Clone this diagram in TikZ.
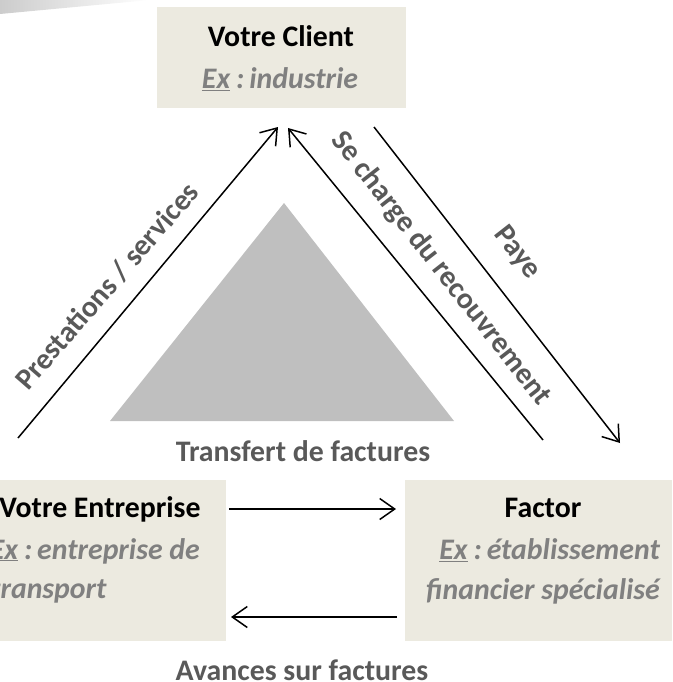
\documentclass[tikz,border=0pt]{standalone}
\usepackage{fontspec}
\setmainfont{Carlito}
\usetikzlibrary{arrows.meta}
\definecolor{boxfill}{HTML}{ECEAE0}
\definecolor{labelgrey}{HTML}{595959}
\definecolor{exgrey}{HTML}{808080}
\definecolor{trigrey}{HTML}{BFBFBF}
\newcommand{\exmark}{\underline{Ex}\hspace{6pt}:\hspace{5pt}}
\tikzset{
  x=1pt,y=-1pt,
  boxnode/.style={fill=boxfill,draw=none,inner sep=0pt,anchor=north west},
  titletext/.style={font=\bfseries\fontsize{29.8}{34}\selectfont,text=black,inner sep=0pt},
  extext/.style={font=\bfseries\itshape\fontsize{29.8}{34}\selectfont,text=exgrey,inner sep=0pt},
  flowlabel/.style={font=\bfseries\fontsize{29.8}{34}\selectfont,text=labelgrey,inner sep=0pt},
  flowarrow/.style={draw=black,line width=1.5pt,-{Straight Barb[length=15pt,width=21pt,line width=1.5pt]}},
}
\begin{document}
\begin{tikzpicture}
\useasboundingbox (0,0) rectangle (672,682);
% smudge in the corner
\shade[left color=gray!40,right color=white] (0,14) -- (150,0) -- (0,0) -- cycle;
% boxes
\node[boxnode,minimum width=249pt,minimum height=101pt] (client) at (157,7) {};
\node[boxnode,minimum width=226pt,minimum height=161pt] (entreprise) at (0,480) {};
\node[boxnode,minimum width=267pt,minimum height=161pt] (factor) at (405,480) {};
% triangle
\fill[trigrey] (284,203) -- (454,421) -- (110,421) -- cycle;
% box text
\node[titletext] (t1) at (281,36) {Votre Client};
\node[extext] (t2) at (280,79) {\exmark industrie};
\node[titletext] (t3) at (100,509) {Votre Entreprise};
\node[extext,anchor=east] (t4) at (200,551) {\exmark entreprise de};
\node[extext,anchor=west] (t5) at (-10,591) {transport};
\node[titletext] (t6) at (543,508) {Factor};
\node[extext,anchor=east] (t7) at (660,550) {\exmark établissement};
\node[extext,anchor=east] (t8) at (660,591) {financier spécialisé};
% flow labels
\node[flowlabel] (l1) at (303,451) {Transfert de factures};
\node[flowlabel] (l2) at (302,670) {Avances sur factures};
\node[flowlabel,rotate=49] (l3) at (107,286) {Prestations / services};
\node[flowlabel,rotate=-52] (l4) at (441,269) {Se charge du recouvrement};
\node[flowlabel,rotate=-52] (l5) at (517,253) {Paye};
% connector ends
\coordinate (a1) at (18,438);
\coordinate (a2) at (278,127);
\coordinate (b1) at (543,440);
\coordinate (b2) at (288,128);
\coordinate (c1) at (374,127);
\coordinate (c2) at (620,443);
\coordinate (d1) at (229,509);
\coordinate (d2) at (396,509);
\coordinate (e1) at (397,617);
\coordinate (e2) at (231,617);
\draw[flowarrow] (a1) -- (a2);
\draw[flowarrow] (b1) -- (b2);
\draw[flowarrow] (c1) -- (c2);
\draw[flowarrow] (d1) -- (d2);
\draw[flowarrow] (e1) -- (e2);
\end{tikzpicture}
\end{document}
